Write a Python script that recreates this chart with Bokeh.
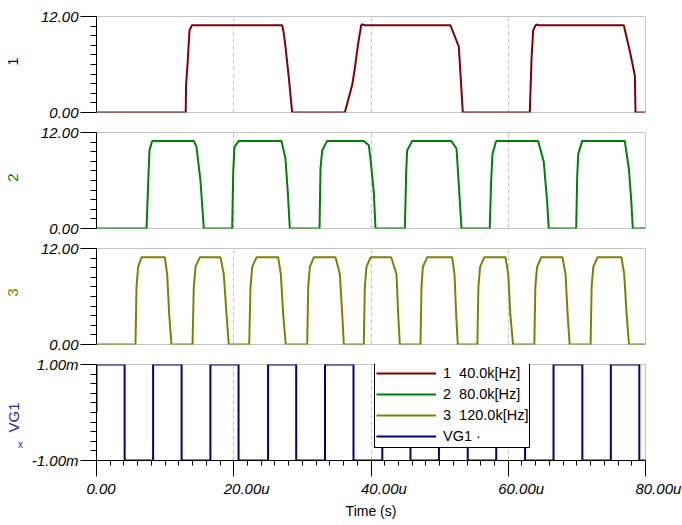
import math
from bokeh.plotting import figure
from bokeh.layouts import column, row
from bokeh.models import (Range1d, FixedTicker, Legend, LegendItem, ColumnDataSource)
from bokeh.core.properties import value
from bokeh.embed import file_html
from bokeh.resources import INLINE

FONT = "Liberation Sans"

# ---------------- data (time in microseconds) ----------------
time_1 = [0, 13.0, 13.05, 13.3, 13.55, 13.9, 27.06, 27.29, 27.54, 28.02, 28.51,
          36.18, 37.25, 37.6, 38.13, 38.57, 38.75, 39.0, 51.58, 52.79, 53.04, 53.38,
          63.14, 63.39, 63.63, 63.97, 64.2, 64.4, 76.84, 77.81, 78.45, 78.54, 80]
volt_1 = [0, 0, 3.4, 6.5, 10.25, 10.9, 10.9, 9.9, 8.2, 4.4, 0,
          0, 3.4, 5.25, 8.6, 10.9, 11.05, 10.9, 10.9, 8.25, 4.8, 0,
          0, 6.7, 10.25, 10.9, 11.0, 10.9, 10.9, 7.3, 4.6, 0, 0]

time_2 = [0, 7.29, 7.58, 7.72, 8.11, 14.18, 14.57, 15.15, 15.64,
          19.77, 19.92, 20.1, 20.74, 26.96, 27.54, 27.88, 28.17,
          32.5, 32.64, 32.89, 33.62, 38.95, 39.68, 39.93, 40.41, 40.66,
          44.93, 45.13, 45.27, 46.0, 51.68, 52.46, 52.8, 53.19,
          57.3, 57.5, 57.7, 58.24, 64.36, 65.18, 65.67, 65.9,
          69.9, 70.05, 70.2, 70.78, 76.98, 77.57, 77.91, 78.15, 80]
volt_2 = [0, 0, 6.8, 9.75, 10.95, 10.95, 10.2, 6.0, 0,
          0, 7.0, 10.2, 10.95, 10.95, 8.7, 4.5, 0,
          0, 7.5, 9.75, 10.95, 10.95, 10.4, 8.7, 4.5, 0,
          0, 7.0, 9.75, 10.95, 10.95, 10.0, 5.4, 0,
          0, 5.8, 9.3, 10.95, 10.95, 8.3, 3.3, 0,
          0, 6.6, 9.3, 10.95, 10.95, 7.5, 3.7, 0, 0]

time_3 = [0, 5.68, 5.83, 6.07, 6.56, 9.96, 10.3, 10.59, 10.93,
          13.99, 14.18, 14.43, 15.05, 18.07, 18.55, 18.94, 19.28,
          22.25, 22.44, 22.69, 23.32, 26.47, 26.86, 27.2, 27.58,
          30.7, 30.85, 31.09, 31.67, 34.83, 35.46, 35.81, 36.04,
          38.95, 39.1, 39.34, 39.93, 42.94, 43.72, 43.96, 44.2,
          47.21, 47.36, 47.55, 48.19, 51.83, 52.17, 52.41, 52.65,
          55.5, 55.65, 55.9, 56.5, 59.6, 60.0, 60.3, 60.7,
          63.8, 63.95, 64.2, 64.8, 67.9, 68.35, 68.65, 68.95,
          72.0, 72.15, 72.4, 73.0, 76.5, 76.9, 77.25, 77.6, 80]
volt_3 = [0, 0, 7.2, 9.7, 10.9, 10.9, 8.8, 3.8, 0,
          0, 7.2, 9.7, 10.9, 10.9, 8.8, 3.8, 0,
          0, 7.1, 9.7, 10.9, 10.9, 8.8, 3.8, 0,
          0, 7.2, 9.7, 10.9, 10.9, 8.8, 3.8, 0,
          0, 7.2, 9.7, 10.9, 10.9, 8.8, 3.8, 0,
          0, 7.2, 9.7, 10.9, 10.9, 8.8, 3.8, 0,
          0, 7.2, 9.7, 10.9, 10.9, 8.8, 3.8, 0,
          0, 7.2, 9.7, 10.9, 10.9, 8.8, 3.8, 0,
          0, 7.2, 9.7, 10.9, 10.9, 8.8, 3.8, 0, 0]

vg1_time = [0, 0, 4.1, 8.25, 12.4, 16.6, 20.7, 25.0, 29.1, 33.3, 37.45, 41.65,
            45.75, 49.9, 54.1, 58.25, 62.45, 66.6, 70.8, 74.95, 79.1, 80]
vg1_mV = [0, 1, -1, 1, -1, 1, -1, 1, -1, 1, -1, 1,
          -1, 1, -1, 1, -1, 1, -1, 1, -1, -1]

x_ticks = [0, 20, 40, 60, 80]
x_tick_labels = ["0.00", "20.00u", "40.00u", "60.00u", "80.00u"]
x_minor = [2, 4, 6, 8, 10, 12, 14, 16, 18, 22, 24, 26, 28, 30, 32, 34, 36, 38,
           42, 44, 46, 48, 50, 52, 54, 56, 58, 62, 64, 66, 68, 70, 72, 74, 76, 78]
grid_ticks = [20, 40, 60]
x_title = "Time (s)"

v_ticks = [0, 12]
v_tick_labels = ["0.00", "12.00"]
v_minor = [1.2, 2.4, 3.6, 4.8, 6.0, 7.2, 8.4, 9.6, 10.8]
vg_ticks = [-1, 1]
vg_tick_labels = ["-1.00m", "1.00m"]
vg_minor = [-0.8, -0.6, -0.4, -0.2, 0, 0.2, 0.4, 0.6, 0.8]

panel_names = ["1", "2", "3", "VG1"]
legend_labels = ["1  40.0k[Hz]", "2  80.0k[Hz]", "3  120.0k[Hz]", "VG1 \u00b7"]
line_colors = ["#800000", "#008000", "#808000", "#000080"]
name_colors = ["#1a0a0a", "#008000", "#808000", "#2a2aa0"]

# ---------------- layout constants (pixels) ----------------
PAGE_W = 682
STRIP_W = 24          # left strip holding the panel names
PANEL_W = PAGE_W - STRIP_W
LEFT = 72             # frame left offset inside a panel figure
FRAME_W = 549
RIGHT = PANEL_W - LEFT - FRAME_W
FRAME_X0 = STRIP_W + LEFT   # page x of the time axis origin
PX_PER_US = FRAME_W / (x_ticks[-1] - x_ticks[0])
TOP_H = 477           # height of the stacked panels
BOTTOM_H = 48         # strip with the time tick labels

x_range = Range1d(x_ticks[0], x_ticks[-1])


def no_align(f):
    if "frame_align" in f.properties():
        f.frame_align = False


def make_panel(height, top, bottom, y_rng, yt, ylab, yminor, xaxis):
    p = figure(width=PANEL_W, height=height, x_range=x_range, y_range=y_rng,
               output_backend="svg", toolbar_location=None, tools="",
               min_border_left=LEFT, min_border_right=RIGHT, min_border_top=top,
               min_border_bottom=bottom,
               x_axis_location="below" if xaxis else None)
    p.background_fill_color = "white"
    p.border_fill_color = "white"
    p.outline_line_color = "#c4c4c4"
    p.outline_line_width = 1
    p.xgrid.ticker = FixedTicker(ticks=grid_ticks)
    p.xgrid.grid_line_color = "#c4c4c4"
    p.xgrid.grid_line_dash = "4 3"
    p.ygrid.visible = False

    ax = p.yaxis[0]
    ax.ticker = FixedTicker(ticks=yt, minor_ticks=yminor)
    ax.major_label_overrides = dict(zip(yt, ylab))
    ax.major_tick_out = 16
    ax.major_tick_in = 0
    ax.minor_tick_out = 6
    ax.minor_tick_in = 0
    ax.major_label_standoff = 2
    ax.major_label_text_font = FONT
    ax.major_label_text_font_size = "15px"
    ax.major_label_text_font_style = "italic"
    ax.major_label_text_color = "black"
    ax.axis_line_color = "black"
    ax.major_tick_line_color = "black"
    ax.minor_tick_line_color = "black"
    return p


p1 = make_panel(122, 16, 10, Range1d(0, 12), v_ticks, v_tick_labels, v_minor, False)
p2 = make_panel(116, 10, 10, Range1d(0, 12), v_ticks, v_tick_labels, v_minor, False)
p3 = make_panel(116, 10, 10, Range1d(0, 12), v_ticks, v_tick_labels, v_minor, False)
p4 = make_panel(123, 10, 17, Range1d(-1, 1), vg_ticks, vg_tick_labels, vg_minor, True)

p1.line(time_1, volt_1, line_color=line_colors[0], line_width=2)
p2.line(time_2, volt_2, line_color=line_colors[1], line_width=2)
p3.line(time_3, volt_3, line_color=line_colors[2], line_width=2)
p4.step(vg1_time, vg1_mV, mode="after", line_color=line_colors[3], line_width=2)

# x axis (ticks only) of the bottom panel
xa = p4.xaxis[0]
xa.ticker = FixedTicker(ticks=x_ticks, minor_ticks=x_minor)
xa.major_label_overrides = {t: "" for t in x_ticks}
xa.major_tick_out = 16
xa.major_tick_in = 0
xa.minor_tick_out = 5
xa.minor_tick_in = 0
xa.major_label_standoff = 0
xa.axis_line_color = "black"
xa.major_tick_line_color = "black"
xa.minor_tick_line_color = "black"

# legend (proxy renderers with no visible points, one per series)
nan = float("nan")
items = []
for lab, col in zip(legend_labels, line_colors):
    r = p4.line(x=[nan, nan], y=[nan, nan], line_color=col, line_width=2)
    items.append(LegendItem(label=lab, renderers=[r]))
leg = Legend(items=items, location=(278, 12), margin=0, padding=1, spacing=1,
             glyph_width=60, glyph_height=20, label_height=20, label_standoff=7,
             label_text_font=FONT, label_text_font_size="14.5px",
             label_text_color="black", border_line_color="black",
             border_line_width=1, border_line_alpha=1,
             background_fill_color="white", background_fill_alpha=1)
p4.add_layout(leg)


def blank(width, height, xr, yr):
    f = figure(width=width, height=height, x_range=xr, y_range=yr,
               output_backend="svg", toolbar_location=None, tools="",
               min_border_left=0, min_border_right=0, min_border_top=0,
               min_border_bottom=0, x_axis_location=None, y_axis_location=None)
    f.outline_line_color = None
    f.xgrid.visible = False
    f.ygrid.visible = False
    f.background_fill_color = "white"
    f.border_fill_color = "white"
    no_align(f)
    return f


# strip under the panels: tick labels and axis title, same time scale
x_strip = blank(PAGE_W, BOTTOM_H,
                Range1d(x_ticks[0] - FRAME_X0 / PX_PER_US,
                        x_ticks[0] + (PAGE_W - FRAME_X0) / PX_PER_US),
                Range1d(BOTTOM_H, 0))
x_strip.text(x=x_ticks, y=11, text=x_tick_labels, x_offset=-10,
             text_align="left", text_baseline="middle", text_font=value(FONT),
             text_font_size="15px", text_font_style="italic", text_color="black")
x_strip.text(x=[(x_ticks[0] + x_ticks[-1]) / 2], y=[33], text=[x_title],
             text_align="center", text_baseline="middle", text_font=value(FONT),
             text_font_size="14px", text_color="black")

# strip on the left: panel names (rotated), page pixel coordinates
name_strip = blank(STRIP_W, TOP_H, Range1d(0, STRIP_W), Range1d(TOP_H, 0))
name_src = ColumnDataSource(dict(x=[12.5, 12.5, 12.5, 12.5],
                                 y=[61, 177, 292, 417],
                                 text=panel_names, color=name_colors))
name_strip.text(x="x", y="y", text="text", text_color="color", source=name_src,
                angle=math.pi / 2, text_align="center", text_baseline="middle",
                text_font=value(FONT), text_font_size="15px")
name_strip.text(x=[20], y=[444], text=["x"], text_color="#2a2aa0",
                text_align="center", text_baseline="middle",
                text_font=value(FONT), text_font_size="10px")

layout = column(row(name_strip, column(p1, p2, p3, p4)), x_strip)
open("out.html", "w").write(file_html(layout, INLINE))
